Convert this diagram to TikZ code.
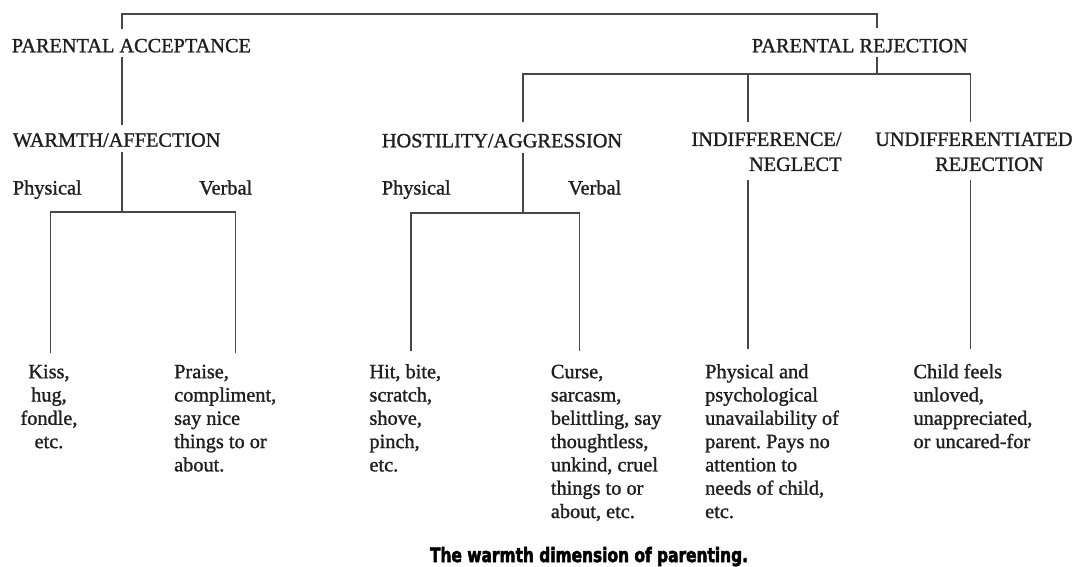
\documentclass[tikz,border=0pt]{standalone}
\usepackage{fontspec}
\setmainfont{Liberation Serif}[FakeBold=1.2]
\newfontfamily\capfont{DejaVu Sans}[BoldFeatures={FakeBold=3}]
\newcommand\headfont{\fontsize{20.3}{25}\selectfont}
\newcommand\leaffont{\fontsize{20.3}{23.3}\selectfont}
\frenchspacing
\tikzset{
  head/.style={anchor=base west, inner sep=0pt, font=\headfont, text=black!88},
  headml/.style={anchor=north west, inner sep=0pt, align=left, font=\headfont, text=black!88},
  headmr/.style={anchor=north east, inner sep=0pt, align=right, font=\headfont, text=black!88},
  leaf/.style={anchor=north west, inner sep=0pt, align=left, font=\leaffont, text=black!88},
  leafc/.style={anchor=north, inner sep=0pt, align=center, font=\leaffont, text=black!88},
  wire/.style={line width=1.7pt, draw=black!72}
}
\begin{document}
\begin{tikzpicture}[x=1pt,y=-1pt]
\fill[white] (0,0) rectangle (1078,567);
\useasboundingbox (0,0) rectangle (1078,567);

% headings
\node[head] (accept) at (11.7,52.3) {PARENTAL ACCEPTANCE};
\node[head] (reject) at (751.7,52.3) {PARENTAL REJECTION};
\node[head] (warmth) at (12.7,146.7) {WARMTH/AFFECTION};
\node[head] (hostil) at (381.7,147.3) {HOSTILITY/AGGRESSION};
\node[headmr] (indiff) at (841.7,128.2) {\strut INDIFFERENCE/\\NEGLECT};
\node[headml] (undiff) at (875,128.2) {\strut UNDIFFERENTIATED\\\hspace*{60pt}REJECTION};

% sub labels
\node[head] (wphys) at (12.7,194.5) {Physical};
\node[head] (wverb) at (199,194.5) {Verbal};
\node[head] (hphys) at (381.7,194.5) {Physical};
\node[head] (hverb) at (568,194.5) {Verbal};

% leaves
\node[leafc] (kiss) at (49,361.7) {\strut Kiss,\\hug,\\fondle,\\etc.};
\node[leaf] (praise) at (174,361.7) {\strut Praise,\\compliment,\\say nice\\things to or\\about.};
\node[leaf] (hit) at (369.3,361.7) {\strut Hit, bite,\\scratch,\\shove,\\pinch,\\etc.};
\node[leaf] (curse) at (550.7,361.7) {\strut Curse,\\sarcasm,\\belittling, say\\thoughtless,\\unkind, cruel\\things to or\\about, etc.};
\node[leaf] (phys) at (705,361.7) {\strut Physical and\\psychological\\unavailability of\\parent. Pays no\\attention to\\needs of child,\\etc.};
\node[leaf] (child) at (913.3,361.7) {\strut Child feels\\unloved,\\unappreciated,\\or uncared-for};

% caption
\node[anchor=base, inner sep=0pt, text=black] (caption) at (589,562)
  {\resizebox{318pt}{15pt}{\capfont\bfseries The warmth dimension of parenting.}};

% junction coordinates
\coordinate (tl) at (121.7,14);
\coordinate (tr) at (876.7,14);
\coordinate (aUp) at (121.7,29);
\coordinate (rUp) at (876.7,28);
\coordinate (aDn) at (121.7,56.7);
\coordinate (wUp) at (121.7,125);
\coordinate (rDn) at (876.7,57);
\coordinate (rJ) at (876.7,74);
\coordinate (hBarL) at (523.3,74);
\coordinate (iBar) at (748.3,74);
\coordinate (uBar) at (970.5,74);
\coordinate (hUp) at (523.3,121.7);
\coordinate (iUp) at (748.3,121.7);
\coordinate (uUp) at (970.5,121.7);
\coordinate (wDn) at (121.7,151.7);
\coordinate (wJ) at (121.7,212.3);
\coordinate (wL) at (50.5,212.3);
\coordinate (wR) at (235.5,212.3);
\coordinate (kissUp) at (50.5,352.7);
\coordinate (praiseUp) at (235.5,352.7);
\coordinate (hDn) at (523.3,153);
\coordinate (hJ) at (523.3,212.7);
\coordinate (hL) at (410.7,212.7);
\coordinate (hR) at (579.6,212.7);
\coordinate (hitUp) at (410.7,351);
\coordinate (curseUp) at (579.6,351);
\coordinate (iDn) at (748.3,180);
\coordinate (physUp) at (748.3,349);
\coordinate (uDn) at (970.5,180);
\coordinate (childUp) at (970.5,349);

% connectors
\draw[wire] (aUp) -- (tl) -- (tr) -- (rUp);
\draw[wire] (aDn) -- (wUp);
\draw[wire] (rDn) -- (rJ);
\draw[wire] (hUp) -- (hBarL) -- (uBar) -- (uUp);
\draw[wire] (iBar) -- (iUp);
\draw[wire] (wDn) -- (wJ);
\draw[wire] (kissUp) -- (wL) -- (wR) -- (praiseUp);
\draw[wire] (hDn) -- (hJ);
\draw[wire] (hitUp) -- (hL) -- (hR) -- (curseUp);
\draw[wire] (iDn) -- (physUp);
\draw[wire] (uDn) -- (childUp);
\end{tikzpicture}
\end{document}
